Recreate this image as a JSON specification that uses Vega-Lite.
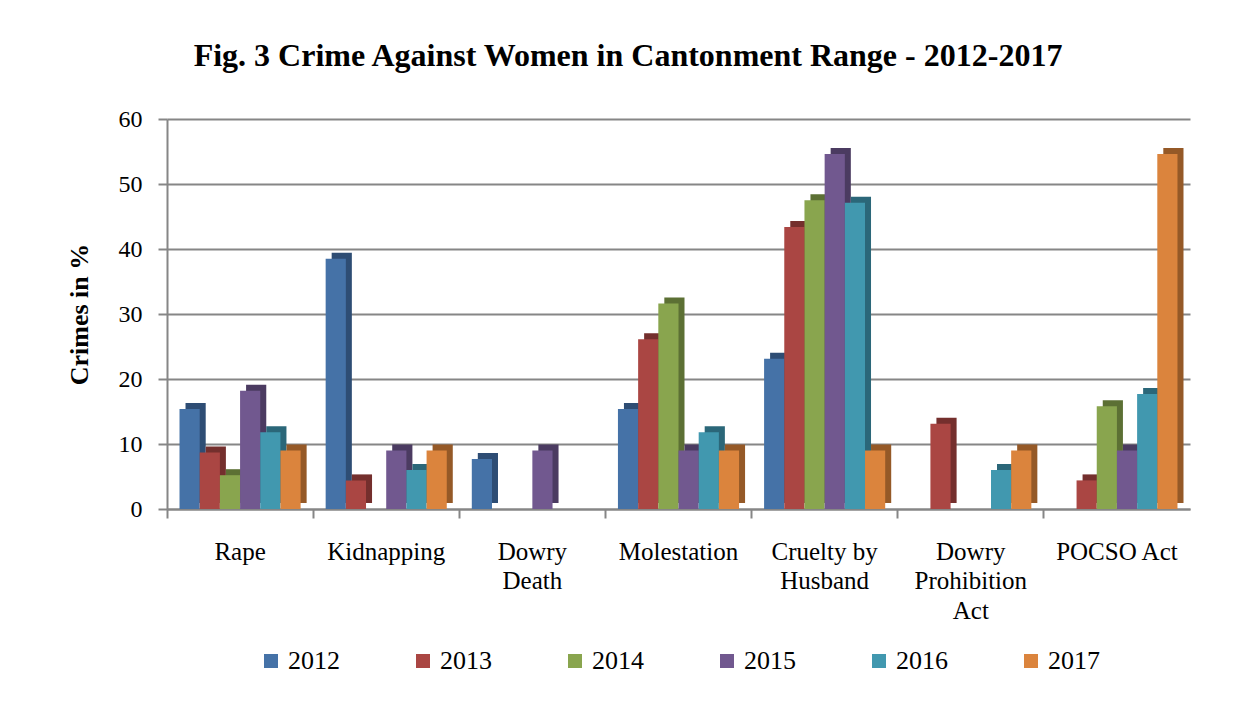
{
"$schema": "https://vega.github.io/schema/vega-lite/v6.json",
"width": 1247, "height": 718,
"autosize": {"type": "fit", "contains": "padding"},
"padding": {"left": 66, "top": 40, "right": 57, "bottom": 44},
"background": "white",
"title": {"text": "Fig. 3 Crime Against Women in Cantonment Range - 2012-2017", "font": "Liberation Serif", "fontSize": 32, "fontWeight": "bold", "color": "#000000", "anchor": "middle", "frame": "bounds", "offset": 34},
"data": {"values": [
{"crime": "Rape", "year": "2012", "value": 15.4},
{"crime": "Rape", "year": "2013", "value": 8.7},
{"crime": "Rape", "year": "2014", "value": 5.2},
{"crime": "Rape", "year": "2015", "value": 18.2},
{"crime": "Rape", "year": "2016", "value": 11.8},
{"crime": "Rape", "year": "2017", "value": 9.0},
{"crime": "Kidnapping", "year": "2012", "value": 38.5},
{"crime": "Kidnapping", "year": "2013", "value": 4.4},
{"crime": "Kidnapping", "year": "2014", "value": 0},
{"crime": "Kidnapping", "year": "2015", "value": 9.0},
{"crime": "Kidnapping", "year": "2016", "value": 6.0},
{"crime": "Kidnapping", "year": "2017", "value": 9.0},
{"crime": "Dowry|Death", "year": "2012", "value": 7.7},
{"crime": "Dowry|Death", "year": "2013", "value": 0},
{"crime": "Dowry|Death", "year": "2014", "value": 0},
{"crime": "Dowry|Death", "year": "2015", "value": 9.0},
{"crime": "Dowry|Death", "year": "2016", "value": 0},
{"crime": "Dowry|Death", "year": "2017", "value": 0},
{"crime": "Molestation", "year": "2012", "value": 15.4},
{"crime": "Molestation", "year": "2013", "value": 26.1},
{"crime": "Molestation", "year": "2014", "value": 31.6},
{"crime": "Molestation", "year": "2015", "value": 9.0},
{"crime": "Molestation", "year": "2016", "value": 11.8},
{"crime": "Molestation", "year": "2017", "value": 9.0},
{"crime": "Cruelty by|Husband", "year": "2012", "value": 23.1},
{"crime": "Cruelty by|Husband", "year": "2013", "value": 43.4},
{"crime": "Cruelty by|Husband", "year": "2014", "value": 47.5},
{"crime": "Cruelty by|Husband", "year": "2015", "value": 54.6},
{"crime": "Cruelty by|Husband", "year": "2016", "value": 47.1},
{"crime": "Cruelty by|Husband", "year": "2017", "value": 9.0},
{"crime": "Dowry|Prohibition|Act", "year": "2012", "value": 0},
{"crime": "Dowry|Prohibition|Act", "year": "2013", "value": 13.1},
{"crime": "Dowry|Prohibition|Act", "year": "2014", "value": 0},
{"crime": "Dowry|Prohibition|Act", "year": "2015", "value": 0},
{"crime": "Dowry|Prohibition|Act", "year": "2016", "value": 6.0},
{"crime": "Dowry|Prohibition|Act", "year": "2017", "value": 9.0},
{"crime": "POCSO Act", "year": "2012", "value": 0},
{"crime": "POCSO Act", "year": "2013", "value": 4.4},
{"crime": "POCSO Act", "year": "2014", "value": 15.8},
{"crime": "POCSO Act", "year": "2015", "value": 9.0},
{"crime": "POCSO Act", "year": "2016", "value": 17.7},
{"crime": "POCSO Act", "year": "2017", "value": 54.6}
]},
"encoding": {
  "x": {"field": "crime", "type": "nominal", "sort": null,
    "scale": {"paddingInner": 0, "paddingOuter": 0},
    "axis": {"title": null, "labelExpr": "split(datum.label, '|')", "labelAngle": 0, "labelFont": "Liberation Serif", "labelFontSize": 25, "labelColor": "#000000", "bandPosition": 0, "labelOffset": 0, "tickSize": 9, "tickColor": "#868686", "tickWidth": 2, "domainColor": "#868686", "domainWidth": 2, "labelPadding": 21, "labelLineHeight": 29.5, "labelBaseline": "top", "labelLimit": 200}},
  "y": {"field": "value", "type": "quantitative",
    "scale": {"domain": [0, 60], "nice": false},
    "axis": {"values": [0, 10, 20, 30, 40, 50, 60], "title": "Crimes in %", "titleFont": "Liberation Serif", "titleFontSize": 26, "titleFontWeight": "bold", "titleColor": "#000000", "titlePadding": 26, "labelFont": "Liberation Serif", "labelFontSize": 24, "labelColor": "#000000", "labelPadding": 16, "gridColor": "#868686", "gridWidth": 2, "domainColor": "#868686", "domainWidth": 2, "tickColor": "#868686", "tickWidth": 2, "tickSize": 9}}
},
"layer": [
  {"mark": {"type": "bar", "yOffset": -6},
   "encoding": {
     "xOffset": {"field": "year", "type": "nominal", "scale": {"paddingInner": 0, "paddingOuter": 0.62, "align": 0.74}},
     "color": {"field": "year", "type": "nominal",
     "scale": {"range": ["#2E4D74", "#742F2D", "#5C7034", "#4B3B61", "#2B6779", "#955927"]},
     "legend": null}}},
  {"mark": {"type": "bar"},
   "encoding": {
     "xOffset": {"field": "year", "type": "nominal", "scale": {"paddingInner": 0, "paddingOuter": 0.62, "align": 0.5}},
     "color": {"field": "year", "type": "nominal",
     "scale": {"range": ["#4572A7", "#AA4643", "#89A54E", "#71588F", "#4198AF", "#DB843D"]},
     "legend": {"title": null, "orient": "bottom", "direction": "horizontal", "symbolType": "square", "symbolSize": 196, "symbolStrokeWidth": 0, "labelFont": "Liberation Serif", "labelFontSize": 26, "labelColor": "#000000", "columnPadding": 70, "labelOffset": 4, "offset": 25}}}}
],
"resolve": {"scale": {"color": "independent", "xOffset": "independent"}},
"config": {"view": {"stroke": null}, "legend": {"layout": {"bottom": {"anchor": "middle"}}}}
}
